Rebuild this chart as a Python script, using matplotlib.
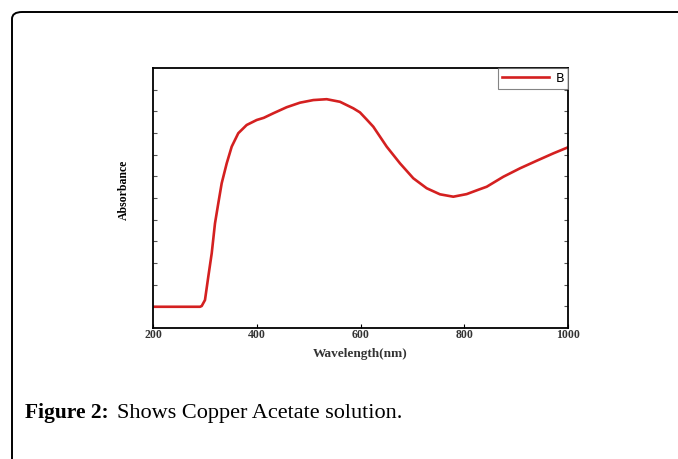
import numpy as np
import matplotlib.pyplot as plt
from matplotlib.patches import FancyBboxPatch

# absorbance curve
wavelength = [200, 250, 290.6, 293.9, 300.2, 306.6, 313.2, 319.5, 325.9, 332.4, 342.1,
              351.7, 364.4, 380.6, 399.9, 413.5, 431.9, 457.7, 483.4, 509.0, 534.8,
              560.5, 586.1, 599.0, 612.0, 624.7, 650.5, 676.1, 701.8, 727.6, 753.2,
              778.9, 804.7, 827.1, 843.3, 875.3, 907.5, 939.7, 971.7, 1000]
absorbance = [0.098, 0.098, 0.098, 0.1015, 0.129, 0.237, 0.345, 0.483, 0.576, 0.668, 0.760,
              0.837, 0.899, 0.937, 0.960, 0.970, 0.991, 1.019, 1.040, 1.052, 1.056,
              1.044, 1.014, 0.995, 0.962, 0.929, 0.837, 0.760, 0.691, 0.645, 0.617,
              0.606, 0.618, 0.638, 0.652, 0.698, 0.737, 0.772, 0.806, 0.834]
xticks = [200, 400, 600, 800, 1000]

fig = plt.figure(figsize=(6.78, 4.59), dpi=100)

# outer rounded frame
frame = FancyBboxPatch((12 / 678, -0.2), 1.2, 1.2 - 12 / 459,
                       boxstyle="round,pad=0,rounding_size=0.015",
                       transform=fig.transFigure, fill=False,
                       edgecolor='black', linewidth=1.4)
fig.patches.append(frame)

ax = fig.add_axes([153 / 678, 1 - 328 / 459, 415 / 678, 260 / 459])
ax.plot(wavelength, absorbance, color='#d42020', linewidth=1.9, label='B')
ax.set_xlim(200, 1000)
ax.set_ylim(0, 1.2)
ax.set_xticks(xticks)
ax.set_xticklabels([str(v) for v in xticks], fontfamily='Liberation Serif',
                   fontweight='bold', fontsize=8.5, color='#333333')
ax.set_yticks(np.arange(0.1, 1.2, 0.1))
ax.set_yticklabels([])
ax.tick_params(axis='x', direction='in', length=3, pad=1)
ax.tick_params(axis='y', direction='in', length=3, right=True, color='#555555')
for s in ax.spines.values():
    s.set_linewidth(1.3)

ax.set_xlabel('Wavelength(nm)', fontfamily='Liberation Serif', fontweight='bold',
              fontsize=9.5, labelpad=5, color='#333333')
ax.set_ylabel('Absorbance', fontfamily='Liberation Serif', fontweight='bold',
              fontsize=8.5)
ax.yaxis.set_label_coords(-0.055, 0.53)

leg = ax.legend(loc='upper right', fontsize=9, frameon=True, fancybox=False,
                borderaxespad=0.0, handlelength=3.8, handletextpad=0.5,
                borderpad=0.3)
leg.get_frame().set_edgecolor('#666666')
leg.get_frame().set_linewidth(0.8)

fig.text(25 / 678, 1 - 418 / 459, 'Figure 2:', fontfamily='Liberation Serif',
         fontweight='bold', fontsize=15.5)
fig.text(117 / 678, 1 - 418 / 459, 'Shows Copper Acetate solution.',
         fontfamily='Liberation Serif', fontsize=16)

fig.savefig('out.png', dpi=100)
